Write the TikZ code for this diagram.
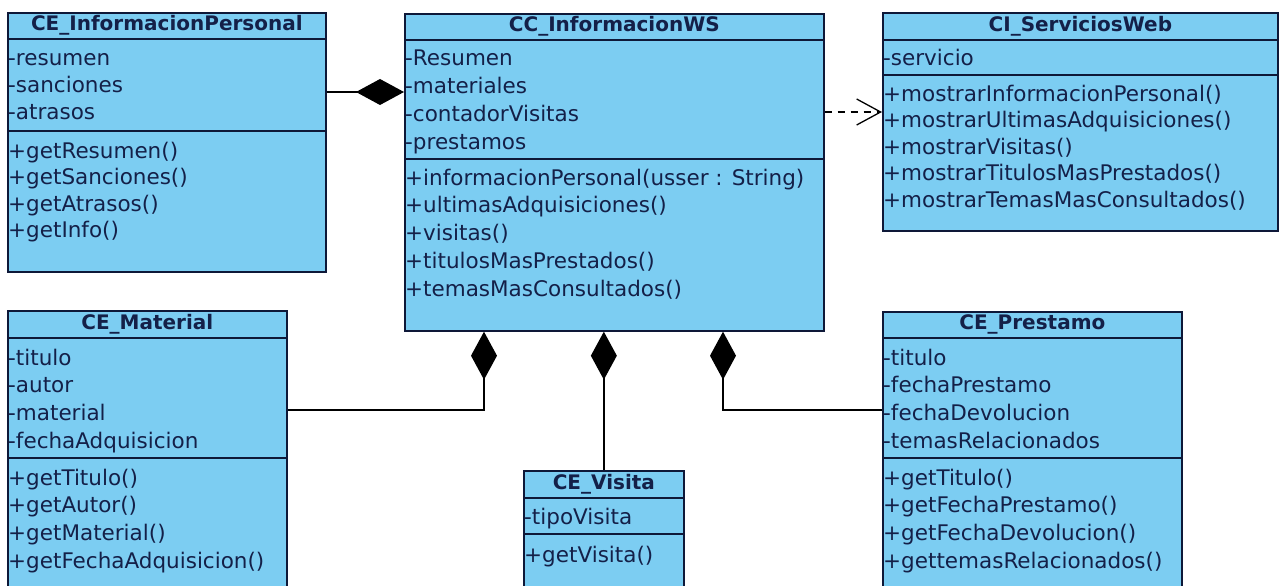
\documentclass[tikz,border=0pt]{standalone}
\usepackage{fontspec}
\setmainfont{DejaVu Sans}
\usetikzlibrary{arrows.meta}
\definecolor{umlfill}{RGB}{124,205,242}
\definecolor{umlline}{RGB}{14,24,56}
\definecolor{umltext}{RGB}{20,32,72}
\begin{document}
\begin{tikzpicture}[x=1pt,y=-1pt,
  box/.style={draw=umlline,fill=umlfill,line width=1.7pt,anchor=north west,inner sep=0pt},
  sep/.style={draw=umlline,line width=1.7pt},
  title/.style={text=umltext,font=\bfseries\fontsize{20}{24}\selectfont,inner sep=0pt},
  member/.style={anchor=west,text=umltext,font=\fontsize{21.5}{25}\selectfont,inner sep=0pt,text height=20pt,text depth=3.5pt},
  compo/.style={line width=1.5pt,-{Diamond[length=48pt,width=26pt,fill=black]}},
  usa/.style={line width=1.3pt,dash pattern=on 7pt off 6pt,-{Straight Barb[length=24pt,width=26pt,line width=1.3pt]}}]
\useasboundingbox (0,0) rectangle (1280,586);
\fill[white] (0,0) rectangle (1280,586);
\clip (0,0) rectangle (1280,586);

% CE_InformacionPersonal
\node[box,minimum width=318pt,minimum height=259pt] (info) at (7,12) {};
\node[title] (info-t) at ([yshift=-13.5pt]info.north) {CE\_InformacionPersonal};
\draw[sep] (info.west |- 0,39) -- (info.east |- 0,39);
\draw[sep] (info.west |- 0,131) -- (info.east |- 0,131);
\foreach \t [count=\i] in {-resumen,-sanciones,-atrasos}
  \node[member] (info-a\i) at (8,{57+27*(\i-1)}) {\t};
\foreach \t [count=\i] in {+getResumen(),+getSanciones(),+getAtrasos(),+getInfo()}
  \node[member] (info-m\i) at (8,{150+26.5*(\i-1)}) {\t};

% CC_InformacionWS
\node[box,minimum width=419pt,minimum height=317pt] (ws) at (404,13) {};
\node[title] (ws-t) at ([yshift=-13.5pt]ws.north) {CC\_InformacionWS};
\draw[sep] (ws.west |- 0,40) -- (ws.east |- 0,40);
\draw[sep] (ws.west |- 0,159) -- (ws.east |- 0,159);
\foreach \t [count=\i] in {-Resumen,-materiales,-contadorVisitas,-prestamos}
  \node[member] (ws-a\i) at (405,{57+28*(\i-1)}) {\t};
\foreach \t [count=\i] in {+informacionPersonal(usser : String),+ultimasAdquisiciones(),+visitas(),+titulosMasPrestados(),+temasMasConsultados()}
  \node[member] (ws-m\i) at (405,{177+27.7*(\i-1)}) {\t};

% CI_ServiciosWeb
\node[box,minimum width=395pt,minimum height=218pt] (sw) at (882,12) {};
\node[title] (sw-t) at ([yshift=-14pt]sw.north) {CI\_ServiciosWeb};
\draw[sep] (sw.west |- 0,40) -- (sw.east |- 0,40);
\draw[sep] (sw.west |- 0,75) -- (sw.east |- 0,75);
\node[member] (sw-a1) at (883,57) {-servicio};
\foreach \t [count=\i] in {+mostrarInformacionPersonal(),+mostrarUltimasAdquisiciones(),+mostrarVisitas(),+mostrarTitulosMasPrestados(),+mostrarTemasMasConsultados()}
  \node[member] (sw-m\i) at (883,{93+26.5*(\i-1)}) {\t};

% CE_Material
\node[box,minimum width=279pt,minimum height=310pt] (mat) at (7,310) {};
\node[title] (mat-t) at ([yshift=-14pt]mat.north) {CE\_Material};
\draw[sep] (mat.west |- 0,338) -- (mat.east |- 0,338);
\draw[sep] (mat.west |- 0,458) -- (mat.east |- 0,458);
\foreach \t [count=\i] in {-titulo,-autor,-material,-fechaAdquisicion}
  \node[member] (mat-a\i) at (8,{357+27.7*(\i-1)}) {\t};
\foreach \t [count=\i] in {+getTitulo(),+getAutor(),+getMaterial(),+getFechaAdquisicion()}
  \node[member] (mat-m\i) at (8,{477+27.7*(\i-1)}) {\t};

% CE_Visita
\node[box,minimum width=160pt,minimum height=150pt] (vis) at (523,470) {};
\node[title] (vis-t) at ([yshift=-14pt]vis.north) {CE\_Visita};
\draw[sep] (vis.west |- 0,498) -- (vis.east |- 0,498);
\draw[sep] (vis.west |- 0,534) -- (vis.east |- 0,534);
\node[member] (vis-a1) at (524,516) {-tipoVisita};
\node[member] (vis-m1) at (524,554) {+getVisita()};

% CE_Prestamo
\node[box,minimum width=299pt,minimum height=310pt] (pre) at (882,311) {};
\node[title] (pre-t) at ([yshift=-13.5pt]pre.north) {CE\_Prestamo};
\draw[sep] (pre.west |- 0,338) -- (pre.east |- 0,338);
\draw[sep] (pre.west |- 0,458) -- (pre.east |- 0,458);
\foreach \t [count=\i] in {-titulo,-fechaPrestamo,-fechaDevolucion,-temasRelacionados}
  \node[member] (pre-a\i) at (883,{357+27.7*(\i-1)}) {\t};
\foreach \t [count=\i] in {+getTitulo(),+getFechaPrestamo(),+getFechaDevolucion(),+gettemasRelacionados()}
  \node[member] (pre-m\i) at (883,{477+27.7*(\i-1)}) {\t};

% relaciones
\coordinate (c1) at (0,92);
\coordinate (c2) at (0,112);
\coordinate (k1) at (484,410);
\coordinate (k3) at (723,410);
\draw[compo] (info.east |- c1) -- (ws.west |- c1);
\draw[usa] (ws.east |- c2) -- (sw.west |- c2);
\draw[compo] (mat.east |- k1) -| (ws.south -| k1);
\draw[compo] (vis.north) -- (ws.south -| vis.north);
\draw[compo] (pre.west |- k3) -| (ws.south -| k3);
\end{tikzpicture}
\end{document}
